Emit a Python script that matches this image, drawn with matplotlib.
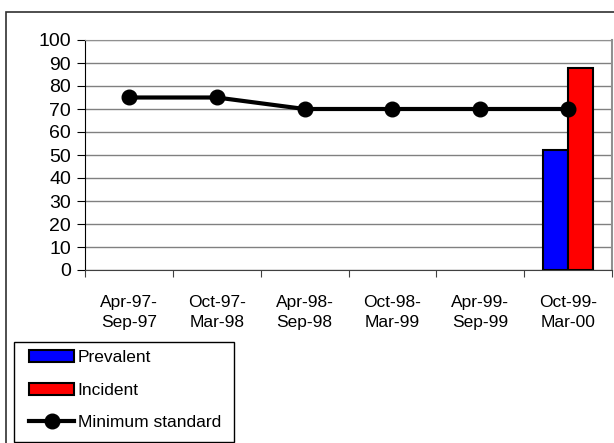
import matplotlib.pyplot as plt
import matplotlib.patches as mpatches
import numpy as np

plt.rcParams['font.family'] = ['Liberation Sans', 'DejaVu Sans']

# Datos (nan = sin dato)
periods = ['Apr-97-\nSep-97', 'Oct-97-\nMar-98', 'Apr-98-\nSep-98',
           'Oct-98-\nMar-99', 'Apr-99-\nSep-99', 'Oct-99-\nMar-00']
prevalent = [np.nan, np.nan, np.nan, np.nan, np.nan, 52]
incident = [np.nan, np.nan, np.nan, np.nan, np.nan, 88]
min_standard = [75, 75, 70, 70, 70, 70]

fig = plt.figure(figsize=(6.14, 4.43), dpi=100)
ax = fig.add_axes([85 / 614, 1 - 270 / 443, 527 / 614, 230 / 443])

x = np.arange(len(periods))
w = 0.284
b1 = ax.bar(x - w / 2, prevalent, w, color='#0000ff', edgecolor='black', lw=1.5, label='Prevalent', zorder=3)
b2 = ax.bar(x + w / 2, incident, w, color='#ff0000', edgecolor='black', lw=1.5, label='Incident', zorder=3)
l1, = ax.plot(x, min_standard, color='black', lw=3, marker='o', markersize=10.5,
              label='Minimum standard', zorder=4)

# Ejes
ax.set_xlim(-0.5, len(periods) - 0.5)
ax.set_ylim(0, 100)
ax.set_yticks(range(0, 101, 10))
ax.yaxis.grid(True, color='#808080', lw=1)
ax.set_axisbelow(True)
ax.set_xticks(np.arange(-0.5, len(periods)), [''] * (len(periods) + 1))
ax.set_xticks(x, periods, minor=True)
ax.tick_params(axis='x', which='major', direction='out', length=5, color='#404040')
ax.tick_params(axis='x', which='minor', length=0, pad=18, labelsize=12.5)
ax.tick_params(axis='y', direction='out', length=6, labelsize=14, pad=4)
for lab in ax.get_xticklabels(minor=True):
    lab.set_linespacing(1.45)

ax.spines['left'].set_color('black')
ax.spines['bottom'].set_color('#404040')
ax.spines['top'].set_color('#909090')
ax.spines['right'].set_color('#909090')
ax.spines['right'].set_linewidth(1.5)

# Leyenda (marco dibujado aparte)
fig.legend([b1, b2, l1], ['Prevalent', 'Incident', 'Minimum standard'],
           loc='upper left', bbox_to_anchor=(29 / 614, 1 - 350 / 443), fontsize=12.5,
           frameon=False, handlelength=2.6, handletextpad=0.2, labelspacing=1.0,
           borderaxespad=0, borderpad=0)
fig.patches.append(mpatches.Rectangle((14 / 614, 1 - 442 / 443), 220 / 614, 100 / 443,
                                      transform=fig.transFigure, fill=False,
                                      edgecolor='black', lw=1))

# Marco exterior
fig.patches.append(mpatches.Rectangle((6 / 614, -0.05), 1.1, 1 - 12 / 443 + 0.05,
                                      transform=fig.transFigure, fill=False,
                                      edgecolor='#303030', lw=1.2))

fig.savefig('out.png', dpi=100)
